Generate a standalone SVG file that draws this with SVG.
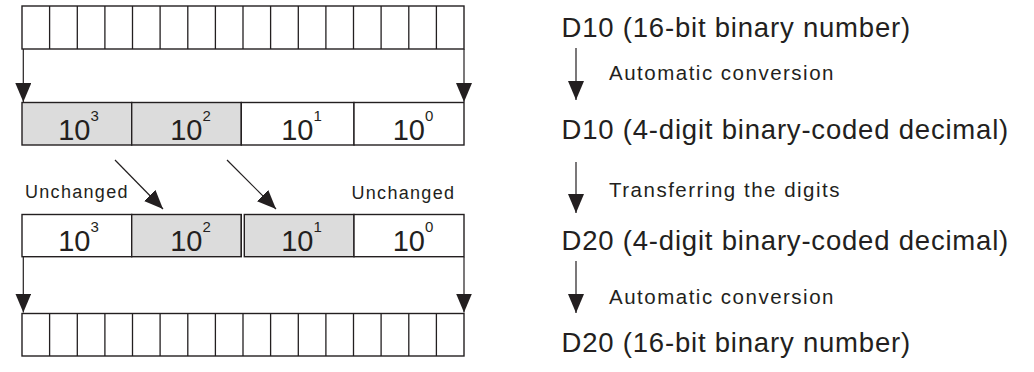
<svg xmlns="http://www.w3.org/2000/svg" width="1034" height="372" viewBox="0 0 1034 372">
<defs>
<style>
.box{fill:#fff;stroke:#231f20;stroke-width:1.4}
.sh{fill:#dcdcdc;stroke:#231f20;stroke-width:1.4}
.ln{stroke:#231f20;stroke-width:1.3;fill:none}
.conn{stroke:#231f20;stroke-width:1.2;fill:none}
.big{font-family:"Liberation Sans",Arial,sans-serif;font-size:29px;fill:#231f20;text-anchor:middle}
.sup{font-size:15px}
.lbl{font-family:"Liberation Sans",Arial,sans-serif;font-size:18px;letter-spacing:1.3px;fill:#231f20}
.h{font-family:"Liberation Sans",Arial,sans-serif;font-size:27.5px;letter-spacing:0.8px;fill:#231f20}
.s{font-family:"Liberation Sans",Arial,sans-serif;font-size:20.5px;letter-spacing:1.5px;fill:#231f20}
</style>
<marker id="ahv" viewBox="0 0 19 16" refX="19" refY="8" markerWidth="19" markerHeight="16" markerUnits="userSpaceOnUse" orient="auto">
<path d="M0,0 L19,8 L0,16 Z" fill="#231f20"/>
</marker>
</defs>
<rect width="1034" height="372" fill="#fff"/>

<g id="d10-bits">
<rect class="box" x="22" y="6" width="442" height="43"/>
<path class="ln" d="M49.6,6V49M77.3,6V49M104.9,6V49M132.5,6V49M160.1,6V49M187.8,6V49M215.4,6V49M243,6V49M270.6,6V49M298.3,6V49M325.9,6V49M353.5,6V49M381.1,6V49M408.8,6V49M436.4,6V49"/>
</g>

<g id="d10-bcd">
<rect class="sh" x="22" y="102.5" width="109.7" height="42.5"/>
<rect class="sh" x="131.7" y="102.5" width="109.6" height="42.5"/>
<rect class="box" x="241.3" y="102.5" width="112.7" height="42.5"/>
<rect class="box" x="354" y="102.5" width="110" height="42.5"/>
<text class="big" x="78.5" y="140">10<tspan class="sup" dy="-19">3</tspan></text>
<text class="big" x="190.5" y="140">10<tspan class="sup" dy="-19">2</tspan></text>
<text class="big" x="301.5" y="140">10<tspan class="sup" dy="-19">1</tspan></text>
<text class="big" x="413" y="140">10<tspan class="sup" dy="-19">0</tspan></text>
</g>

<g id="unchanged-labels">
<text class="lbl" x="25" y="198">Unchanged</text>
<text class="lbl" x="351.5" y="199">Unchanged</text>
</g>

<g id="d20-bcd">
<rect class="box" x="22" y="214.5" width="109.7" height="42.2"/>
<rect class="sh" x="131.7" y="214.5" width="109.6" height="42.2"/>
<rect class="sh" x="244.3" y="214.5" width="109.7" height="42.2"/>
<rect class="box" x="354" y="214.5" width="110" height="42.2"/>
<line class="ln" x1="241.3" y1="214.5" x2="241.3" y2="256.7"/>
<text class="big" x="78.5" y="251">10<tspan class="sup" dy="-19">3</tspan></text>
<text class="big" x="190.5" y="251">10<tspan class="sup" dy="-19">2</tspan></text>
<text class="big" x="301.5" y="251">10<tspan class="sup" dy="-19">1</tspan></text>
<text class="big" x="413" y="251">10<tspan class="sup" dy="-19">0</tspan></text>
</g>

<g id="d20-bits">
<rect class="box" x="22" y="313.5" width="442" height="42.5"/>
<path class="ln" d="M49.6,313.5V356M77.3,313.5V356M104.9,313.5V356M132.5,313.5V356M160.1,313.5V356M187.8,313.5V356M215.4,313.5V356M243,313.5V356M270.6,313.5V356M298.3,313.5V356M325.9,313.5V356M353.5,313.5V356M381.1,313.5V356M408.8,313.5V356M436.4,313.5V356"/>
</g>

<g id="steps">
<text id="step1" class="h" x="561.5" y="37">D10 (16-bit binary number)</text>
<text id="step1-label" class="s" x="609" y="80">Automatic conversion</text>
<text id="step2" class="h" x="561.5" y="139.3">D10 (4-digit binary-coded decimal)</text>
<text id="step2-label" class="s" x="609" y="196.5">Transferring the digits</text>
<text id="step3" class="h" x="561.5" y="249.5">D20 (4-digit binary-coded decimal)</text>
<text id="step3-label" class="s" x="609" y="304">Automatic conversion</text>
<text id="step4" class="h" x="561.5" y="351.5">D20 (16-bit binary number)</text>
</g>

<g id="connectors">
<line class="conn" x1="23.3" y1="49" x2="23.3" y2="102" marker-end="url(#ahv)"/>
<line class="conn" x1="464" y1="49" x2="464" y2="102" marker-end="url(#ahv)"/>
<line class="conn" x1="115" y1="160" x2="163" y2="209" marker-end="url(#ahv)"/>
<line class="conn" x1="227" y1="160" x2="276" y2="209" marker-end="url(#ahv)"/>
<line class="conn" x1="23.3" y1="257" x2="23.3" y2="312.5" marker-end="url(#ahv)"/>
<line class="conn" x1="464" y1="257" x2="464" y2="312.5" marker-end="url(#ahv)"/>
<line class="conn" x1="576" y1="48" x2="576" y2="100" marker-end="url(#ahv)"/>
<line class="conn" x1="576" y1="162" x2="576" y2="213" marker-end="url(#ahv)"/>
<line class="conn" x1="576" y1="261" x2="576" y2="313" marker-end="url(#ahv)"/>
</g>
</svg>
